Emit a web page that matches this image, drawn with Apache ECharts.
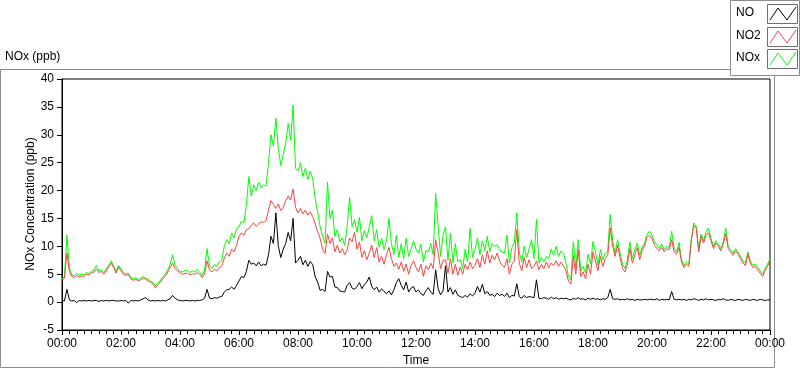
<!DOCTYPE html>
<html>
<head>
<meta charset="utf-8">
<script src="https://cdn.jsdelivr.net/npm/echarts@6/dist/echarts.min.js"></script>
<style>
html,body{margin:0;padding:0;background:#fff;}
#chart{width:800px;height:369px;}
</style>
</head>
<body>
<div id="chart"></div>
<script>
// ---- data (5-minute samples, 00:00 .. 24:00) ----
var STEP_MINUTES = 5;
var seriesNames = ['NO', 'NO2', 'NOx'];
var xTickHours = ['00:00','02:00','04:00','06:00','08:00','10:00','12:00','14:00','16:00','18:00','20:00','22:00','00:00'];

var NO2 = [
3.9,4.3,8.8,5.5,4.6,4.4,4.8,4.5,4.7,4.6,5.0,4.8,
5.2,5.4,5.9,5.3,5.5,5.0,5.6,6.3,7.0,6.2,5.2,6.3,
5.6,5.0,4.8,4.9,4.2,3.9,4.1,3.8,4.0,4.3,4.1,3.8,
3.6,3.2,2.6,3.1,3.6,4.2,4.6,5.4,6.2,7.0,6.0,5.6,
5.3,5.0,5.1,5.2,4.9,5.1,5.0,5.3,5.0,4.4,5.0,7.4,
5.8,5.4,5.9,5.6,6.2,6.5,7.8,8.8,8.2,9.5,9.0,10.2,
11.8,12.4,12.0,13.0,13.2,13.8,14.2,13.6,14.0,14.4,14.3,14.6,
16.5,18.2,17.5,16.8,17.6,16.4,17.0,18.2,19.0,18.3,20.3,17.0,
16.0,16.8,15.8,16.5,15.6,16.2,15.3,14.0,12.6,11.4,9.5,8.7,
12.2,10.5,11.5,9.0,10.2,8.8,9.6,8.5,9.4,11.5,10.8,12.5,
9.5,10.8,8.0,9.2,7.6,8.8,10.2,8.0,9.8,7.2,8.2,6.8,
8.5,9.8,7.8,6.4,7.0,5.9,7.2,5.5,6.8,5.0,6.6,7.4,
6.2,5.4,6.8,4.6,6.5,5.8,7.0,6.0,11.2,8.8,6.0,7.5,
7.6,5.2,7.8,5.0,6.8,4.8,6.3,5.0,6.8,5.8,7.2,6.0,
6.6,7.8,6.2,8.5,6.8,9.2,7.0,8.4,7.6,8.8,7.4,6.6,
6.2,7.8,5.0,6.8,7.4,13.0,7.0,5.6,8.0,6.2,7.6,6.0,
6.4,7.4,5.8,6.8,6.0,7.2,6.2,7.0,6.6,7.4,6.4,7.2,
6.5,5.6,3.8,3.2,8.2,5.0,9.4,4.6,5.4,4.2,6.8,5.0,
9.0,7.4,5.6,8.2,6.4,7.8,8.4,13.3,10.0,8.2,10.2,8.0,
6.0,5.4,6.8,9.6,7.0,8.4,9.8,7.6,9.2,10.2,11.6,12.0,
11.4,10.2,9.6,9.2,9.8,9.0,9.6,9.4,11.2,9.0,8.6,9.8,
7.2,6.2,6.8,6.4,11.0,13.8,13.2,9.0,11.8,10.6,12.0,12.4,
11.0,9.6,10.6,10.0,9.2,10.4,12.2,9.6,9.0,8.4,9.2,8.6,
7.8,7.0,6.6,8.6,7.0,6.2,6.4,5.8,5.2,4.6,5.6,6.4,
7.4
];

var NOx = [
4.1,4.6,12.0,6.2,4.9,4.7,5.2,4.8,5.0,4.9,5.3,5.1,
5.5,5.7,6.6,5.6,5.8,5.3,5.9,6.6,7.4,6.5,5.5,6.6,
5.9,5.3,5.1,5.2,4.4,4.2,4.4,4.0,4.3,4.6,4.3,4.1,
3.8,3.5,2.9,3.4,3.9,4.5,5.0,5.8,6.8,8.5,6.6,6.0,
5.6,5.4,5.6,5.7,5.3,5.6,5.4,5.8,5.4,4.8,5.8,9.6,
6.5,6.0,6.7,6.4,7.2,7.5,10.0,11.2,10.5,12.4,11.5,13.2,
13.5,14.5,14.2,17.5,22.5,19.0,21.0,20.0,21.5,20.5,21.0,20.8,
25.0,30.0,28.0,33.0,27.5,24.5,26.5,28.5,32.0,29.0,35.3,24.0,
23.5,25.0,22.5,24.0,22.0,23.5,22.0,18.5,16.2,13.5,11.8,10.6,
21.5,15.0,16.5,11.8,13.0,10.8,11.5,10.2,13.5,18.8,13.5,14.8,
12.5,15.2,11.0,12.8,11.5,13.5,15.5,11.0,13.0,9.8,11.5,9.4,
11.0,15.0,10.5,8.5,12.0,8.0,10.5,7.8,11.5,8.2,9.5,11.0,
9.5,8.8,10.4,7.2,9.2,9.0,10.5,8.5,19.5,13.8,8.2,12.0,
13.5,7.5,12.4,7.0,10.5,7.2,7.6,6.0,9.5,7.2,13.2,8.0,
9.5,11.5,8.5,11.0,9.2,11.8,9.0,10.5,10.0,10.3,9.4,9.0,
8.8,12.0,7.0,9.8,10.6,16.0,9.0,7.2,10.0,8.0,9.5,11.2,
7.8,14.8,7.0,8.0,7.2,8.2,7.8,9.5,8.4,10.0,8.2,9.2,
8.8,7.0,4.6,4.0,10.8,6.0,11.2,5.6,6.4,5.2,8.6,6.8,
10.9,9.0,6.6,9.4,7.6,8.8,9.2,15.7,11.0,8.8,11.2,8.8,
6.8,6.0,7.6,10.8,7.8,9.4,10.6,8.4,9.8,10.6,12.2,12.7,
12.0,10.8,10.2,9.6,10.4,9.4,10.0,9.8,12.7,9.6,9.0,10.7,
7.6,6.6,7.2,6.8,11.4,14.2,13.6,9.6,12.2,11.0,12.6,13.3,
11.4,10.0,11.0,10.4,9.6,10.8,13.3,10.0,9.4,8.8,9.6,9.0,
8.2,7.4,7.0,9.0,7.4,6.6,6.8,6.2,5.6,5.0,6.0,6.8,
7.8
];

var NO = [
0.3,0.2,2.3,0.4,0.2,0.3,-0.1,0.3,0.2,0.3,0.2,0.3,
0.2,0.3,0.3,0.1,0.3,0.2,0.3,0.2,0.3,0.3,0.2,0.2,
0.3,0.2,0.3,-0.2,0.3,0.2,0.3,0.2,0.4,0.6,0.8,0.4,
0.2,0.3,0.2,0.3,0.2,0.3,0.2,0.4,0.6,1.2,0.7,0.4,
0.3,0.2,0.3,0.3,0.2,0.3,0.2,0.3,0.3,0.4,0.7,2.3,
0.7,0.6,0.8,0.7,0.9,1.0,1.8,2.2,2.3,2.7,2.3,3.0,
3.8,4.6,4.4,5.5,7.5,6.8,7.0,6.5,7.2,6.5,6.8,6.6,
8.5,11.8,10.5,16.0,10.0,8.0,9.5,10.5,12.5,11.0,15.0,7.0,
7.5,8.2,6.7,7.5,6.4,7.3,6.7,4.5,3.6,2.1,2.3,1.9,
5.5,4.5,4.6,2.7,2.6,2.0,1.9,1.8,3.0,3.5,2.5,2.3,
2.8,3.5,2.4,3.2,3.6,4.5,2.8,2.2,2.7,1.8,2.4,1.9,
1.5,2.0,1.3,2.2,3.5,4.2,3.0,2.2,3.6,1.8,2.5,2.8,
1.8,2.2,1.5,1.2,2.0,2.6,1.8,1.4,5.8,2.4,1.3,2.0,
6.5,1.8,2.6,1.4,2.2,1.2,1.0,0.8,1.2,0.9,1.5,1.1,
1.6,2.8,1.8,3.2,1.5,1.9,1.2,1.4,1.0,1.6,1.2,1.4,
1.0,1.6,0.8,1.2,1.1,3.3,1.0,0.7,1.2,0.8,1.0,0.9,
0.8,4.0,0.7,0.6,0.8,0.7,0.5,0.9,0.6,0.8,0.5,0.7,
0.6,0.7,0.5,0.4,0.7,0.5,0.8,0.5,0.6,0.4,0.7,0.5,
0.7,0.5,0.6,0.4,0.6,0.5,0.8,2.3,0.6,0.5,0.6,0.4,
0.5,0.4,0.6,0.4,0.5,0.3,0.5,0.4,0.4,0.5,0.4,0.5,
0.5,0.4,0.6,0.3,0.5,0.4,0.5,0.4,1.9,0.5,0.4,0.5,
0.4,0.5,0.3,0.5,0.4,0.6,0.5,0.3,0.5,0.4,0.6,0.4,
0.5,0.4,0.3,0.5,0.4,0.6,0.4,0.3,0.5,0.4,0.3,0.5,
0.4,0.3,0.5,0.4,0.3,0.5,0.4,0.3,0.5,0.4,0.3,0.4,
0.4
];

function pairs(arr){ return arr.map(function(v,i){ return [i*STEP_MINUTES, v]; }); }

var FONT = '"Liberation Sans", Arial, sans-serif';
var chart = echarts.init(document.getElementById('chart'), null, {renderer:'canvas'});

function legendItem(name, color, y){
  return [
    {type:'text', left:736, top:y-7, style:{text:name, font:'12px '+FONT, fill:'#000'}, z:11},
    {type:'rect', shape:{x:767.5, y:y-9.5, width:30, height:19}, style:{fill:'#fff', stroke:'#6e6e6e', lineWidth:1}, z:11},
    {type:'polyline', shape:{points:[[770,y+6],[778,y-6],[787,y+6],[796,y-7]]}, style:{stroke:color, lineWidth:1, fill:null}, z:12}
  ];
}

var graphics = [
  {type:'rect', shape:{x:0.5, y:69.5, width:774, height:298}, style:{fill:null, stroke:'#8c8c8c', lineWidth:1}, z:-1, silent:true},
  {type:'text', left:5, top:51, style:{text:'NOx (ppb)', font:'12px '+FONT, fill:'#000'}},
  {type:'text', x:31, y:204, rotation:Math.PI/2, style:{text:'NOx Concentration (ppb)', font:'12px '+FONT, fill:'#000', align:'center', verticalAlign:'middle'}},
  {type:'rect', shape:{x:730.5, y:0.5, width:69, height:75}, style:{fill:'#fff', stroke:'#8c8c8c', lineWidth:1}, z:10}
].concat(legendItem(seriesNames[0], '#000000', 14))
 .concat(legendItem(seriesNames[1], '#ff4040', 37))
 .concat(legendItem(seriesNames[2], '#00ff00', 59));

chart.setOption({
  animation:false,
  backgroundColor:'#fff',
  grid:{left:62, right:30, top:79, bottom:39, outerBoundsMode:'none', containLabel:false, show:true, borderColor:'#000', borderWidth:1, backgroundColor:'#fff'},
  xAxis:{
    type:'value', min:0, max:1440, interval:120,
    name:'Time', nameLocation:'middle', nameGap:24,
    nameTextStyle:{color:'#000', fontSize:12, fontFamily:FONT},
    axisLine:{show:true, onZero:false, lineStyle:{color:'#000', width:1}},
    axisTick:{show:true, length:5, lineStyle:{color:'#000'}},
    minorTick:{show:true, splitNumber:8, length:4, lineStyle:{color:'#000'}},
    splitLine:{show:false}, minorSplitLine:{show:false},
    axisLabel:{color:'#000', fontSize:12, fontFamily:FONT, margin:8,
      formatter:function(v){ return xTickHours[Math.round(v/120)]; }}
  },
  yAxis:{
    type:'value', min:-5, max:40, interval:5,
    axisLine:{show:true, onZero:false, lineStyle:{color:'#000', width:1}},
    axisTick:{show:true, length:5, lineStyle:{color:'#000'}},
    splitLine:{show:false},
    axisLabel:{color:'#000', fontSize:12, fontFamily:FONT, margin:8}
  },
  graphic:graphics,
  series:[
    {name:'NOx', type:'line', data:pairs(NOx), showSymbol:false, symbol:'none', lineStyle:{color:'#00ff00', width:1}, itemStyle:{color:'#00ff00'}, z:2},
    {name:'NO2', type:'line', data:pairs(NO2), showSymbol:false, symbol:'none', lineStyle:{color:'#ff4040', width:1}, itemStyle:{color:'#ff4040'}, z:3},
    {name:'NO', type:'line', data:pairs(NO), showSymbol:false, symbol:'none', lineStyle:{color:'#000000', width:1}, itemStyle:{color:'#000000'}, z:4}
  ]
});
</script>
</body>
</html>
